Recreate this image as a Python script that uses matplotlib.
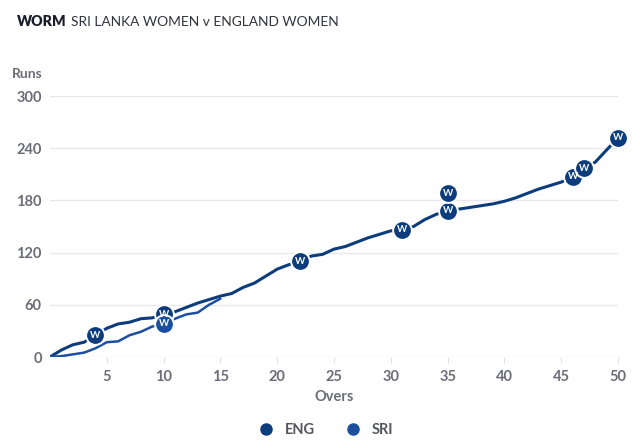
import numpy as np
import matplotlib
matplotlib.use("Agg")
import matplotlib.pyplot as plt
from matplotlib.lines import Line2D
from matplotlib.transforms import offset_copy

plt.rcParams["font.family"] = ["Lato", "DejaVu Sans"]

# runs at the end of each over (over 0 = start)
eng_overs = list(range(0, 51))
eng_runs = [0, 8, 14, 17, 25, 33, 38, 40, 44, 45,
            49, 52, 57, 62, 66, 70, 73, 80, 85, 93,
            101, 106, 110, 116, 118, 124, 127, 132, 137, 141,
            145, 146, 150, 158, 164, 168, 170, 172, 174, 176,
            179, 183, 188, 193, 197, 201, 207, 217, 224, 238,
            252]
sri_overs = list(range(0, 16))
sri_runs = [0, 1, 3, 5, 10, 17, 18, 25, 29, 35, 38, 44, 49, 51, 60, 67]

# overs in which a wicket fell
eng_wkts = [4, 10, 22, 31, 35, 35, 46, 47, 50]
sri_wkts = [10]

ENG_C = "#0c3c7c"
SRI_C = "#1b4f9f"
GREY = "#6c6c78"

fig = plt.figure(figsize=(6.4, 4.48), dpi=100)
ax = fig.add_axes([50/640, 1 - 357/448, 568/640, 261/448])

ax.plot(eng_overs, eng_runs, color=ENG_C, lw=2.2, solid_capstyle="round",
        solid_joinstyle="round", zorder=3)
ax.plot(sri_overs, sri_runs, color=SRI_C, lw=1.8, solid_capstyle="round",
        solid_joinstyle="round", zorder=3)


def wickets(overs, runs, wk, color):
    seen = {}
    for o in wk:
        n = seen.get(o, 0)
        seen[o] = n + 1
        tr = offset_copy(ax.transData, fig=fig, x=0, y=n * 12.5, units="points")
        ax.plot([o], [runs[overs.index(o)]], "o", ms=13.5, mfc=color, mec="white",
                mew=1.4, transform=tr, clip_on=False, zorder=5)
        ax.text(o, runs[overs.index(o)], "W", transform=tr, color="white",
                fontsize=7, fontweight="bold", ha="center", va="center",
                zorder=6, clip_on=False)


wickets(eng_overs, eng_runs, eng_wkts, ENG_C)
wickets(sri_overs, sri_runs, sri_wkts, SRI_C)

ax.set_xlim(0, 50)
ax.set_ylim(0, 300)
ax.set_xticks(range(5, 51, 5))
ax.set_yticks(range(0, 301, 60))
ax.grid(axis="y", color="#e8e8ec", lw=1)
ax.set_axisbelow(True)
for s in ax.spines.values():
    s.set_visible(False)
ax.tick_params(axis="y", length=0, pad=6, labelsize=10.5, labelcolor=GREY)
ax.tick_params(axis="x", length=4, color="#e0e0e6", pad=5, labelsize=10.5, labelcolor=GREY)
for lab in ax.get_xticklabels() + ax.get_yticklabels():
    lab.set_fontweight("bold")

fig.text(17/640, 1 - 22/448, "WORM", fontsize=10.3, fontweight="heavy",
         color="#1c1c2c", va="center")
fig.text(71/640, 1 - 22/448, "SRI LANKA WOMEN v ENGLAND WOMEN", fontsize=9.9,
         color="#33333f", va="center")
fig.text(12/640, 1 - 74/448, "Runs", fontsize=10, fontweight="bold",
         color=GREY, va="center")
fig.text(334/640, 1 - 397/448, "Overs", fontsize=10.5, fontweight="bold",
         color=GREY, ha="center", va="center")

handles = [Line2D([], [], ls="", marker="o", ms=8, color=ENG_C),
           Line2D([], [], ls="", marker="o", ms=8, color=SRI_C)]
leg = fig.legend(handles, ["ENG", "SRI"], loc="center", ncol=2,
                 bbox_to_anchor=(322/640, 1 - 430/448), frameon=False,
                 handletextpad=0.3, columnspacing=1.6, fontsize=10.5)
for t in leg.get_texts():
    t.set_fontweight("bold")
    t.set_color("#55555f")

fig.savefig("out.png", dpi=100)
